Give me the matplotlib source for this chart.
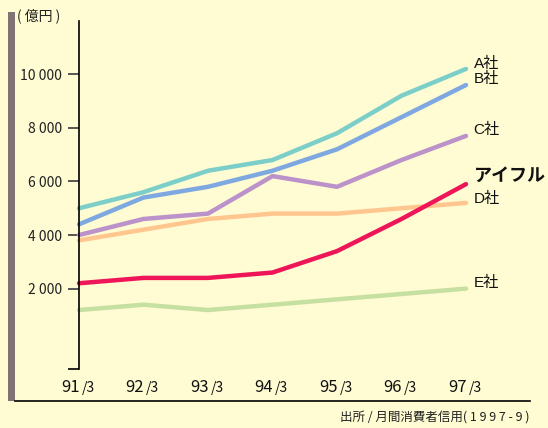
import matplotlib.pyplot as plt
from matplotlib.lines import Line2D
from matplotlib.patches import Rectangle

plt.rcParams['font.family'] = ['Noto Sans CJK JP', 'DejaVu Sans']
LAT = ['Liberation Sans', 'Noto Sans CJK JP']

# 貸付残高 (億円), 各年3月末
years = ['91', '92', '93', '94', '95', '96', '97']
a_sha = [5000, 5600, 6400, 6800, 7800, 9200, 10200]
b_sha = [4400, 5400, 5800, 6400, 7200, 8400, 9600]
c_sha = [4000, 4600, 4800, 6200, 5800, 6800, 7700]
aiful = [2200, 2400, 2400, 2600, 3400, 4600, 5900]
d_sha = [3800, 4200, 4600, 4800, 4800, 5000, 5200]
e_sha = [1200, 1400, 1200, 1400, 1600, 1800, 2000]
y_ticks = [2000, 4000, 6000, 8000, 10000]

bg = '#fffbd3'
W, H = 548, 428
fig = plt.figure(figsize=(W / 100, H / 100), dpi=100, facecolor=bg)

# axes placed in pixel terms of the reference
left, right, top, bottom = 79, 466, 20.7, 369
ax = fig.add_axes([left / W, 1 - bottom / H, (right - left) / W, (bottom - top) / H])
ax.set_facecolor(bg)

series = [
    ('A社', a_sha, '#7ccfc9', 'normal'),
    ('B社', b_sha, '#7ea8e0', 'normal'),
    ('C社', c_sha, '#bb92c9', 'normal'),
    ('D社', d_sha, '#ffc78f', 'normal'),
    ('E社', e_sha, '#c6e0a1', 'normal'),
    ('アイフル', aiful, '#ee1558', 'bold'),
]
x = list(range(len(years)))
for name, vals, col, wt in series:
    ax.plot(x, vals, color=col, lw=3.2, solid_capstyle='round', clip_on=False)

# right-hand labels
label_y = {'A社': 10400, 'B社': 9840, 'C社': 7920, 'D社': 5330,
           'E社': 2200, 'アイフル': 6190}
for name, vals, col, wt in series:
    ax.text(6.12, label_y[name], name, fontsize=13 if wt == 'bold' else 11,
            fontweight=wt, color='#111111', va='center', ha='left',
            family=LAT, clip_on=False)

ax.set_xlim(0, 6)
ax.set_ylim(-1000, 12000)
for s in ['top', 'right', 'bottom']:
    ax.spines[s].set_visible(False)
ax.spines['left'].set_linewidth(1.2)
ax.set_xticks([])
ax.set_yticks(y_ticks)
ax.set_yticklabels([f'{v:,}'.replace(',', ' ') for v in y_ticks])
ax.set_yticks([-1000], minor=True)
ax.tick_params(axis='y', which='major', direction='out', length=8, width=1.4,
               color='#555555', labelsize=10, labelcolor='#222222', pad=4)
ax.tick_params(axis='y', which='minor', direction='out', length=8, width=1.2,
               color='black')

# x labels "91/3"
for i, yr in enumerate(years):
    ax.annotate(yr, (i, -1000), xytext=(0.5, -13), textcoords='offset points',
                ha='right', va='center', fontsize=12, color='#111111',
                annotation_clip=False)
    ax.annotate('/3', (i, -1000), xytext=(2, -14), textcoords='offset points',
                ha='left', va='center', fontsize=10, color='#111111',
                annotation_clip=False)

# frame decorations
fig.add_artist(Rectangle((8 / W, 1 - 401 / H), 7 / W, (401 - 12) / H,
                         transform=fig.transFigure, color='#817373', lw=0))
fig.add_artist(Line2D([15 / W, 530 / W], [1 - 401 / H, 1 - 401 / H],
                      transform=fig.transFigure, color='black', lw=1.2))

fig.text(17 / W, 1 - 16 / H, '( 億円 )', fontsize=10, va='center', ha='left',
         color='#222222')
fig.text(530 / W, 1 - 418 / H, '出所 / 月間消費者信用( 1 9 9 7 - 9 )', fontsize=9,
         va='center', ha='right', color='#222222')

fig.savefig('out.png', dpi=100, facecolor=bg)
